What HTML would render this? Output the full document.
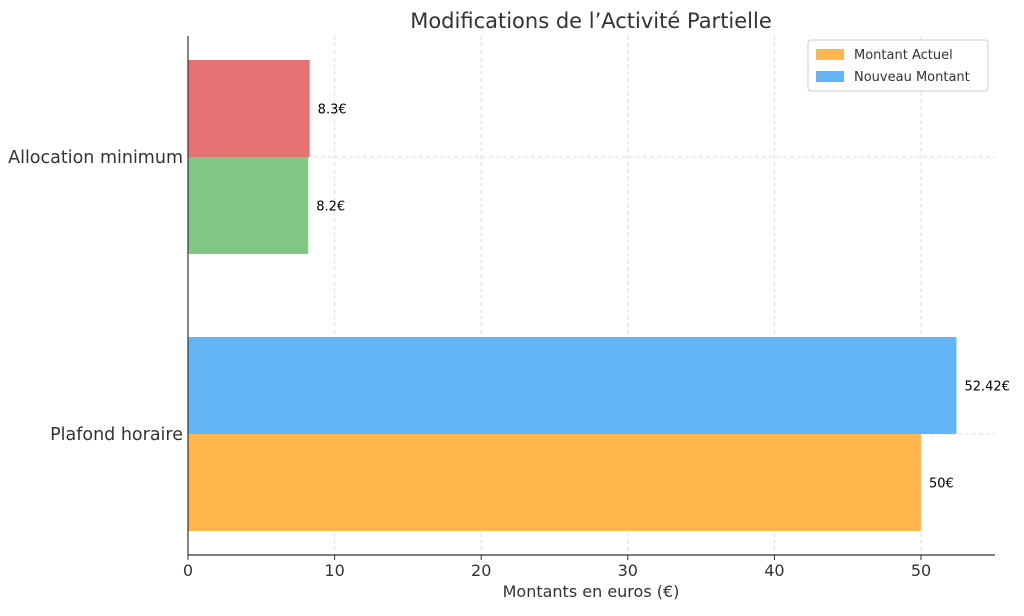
<!DOCTYPE html>
<html><head><meta charset="utf-8"><style>
body{margin:0;background:#fff;font-family:"Liberation Sans","DejaVu Sans",sans-serif}
svg text{font-family:"DejaVu Sans","Liberation Sans",sans-serif}
</style></head><body>
<svg id="chart" width="1024" height="611" xmlns="http://www.w3.org/2000/svg">
<text x="591" y="28" text-anchor="middle" font-size="21" fill="#333">Modifications de l’Activité Partielle</text>
<g id="grid"></g>
<g id="bars"></g>
<g id="axes"></g>
<text x="591" y="597" text-anchor="middle" font-size="16" fill="#333">Montants en euros (€)</text>
<g>
<rect x="808" y="40" width="180" height="51" rx="3" fill="#fff" stroke="#ccc"/>
<rect x="816" y="49" width="28" height="11" fill="#ffb74d"/>
<text x="854" y="59" font-size="13" fill="#333">Montant Actuel</text>
<rect x="816" y="71" width="28" height="11" fill="#64b5f6"/>
<text x="854" y="81" font-size="13" fill="#333">Nouveau Montant</text>
</g>
</svg>
<script>
const categories=["Allocation minimum","Plafond horaire"];
const actuel=[8.2,50];
const nouveau=[8.3,52.42];
const labelsActuel=["8.2€","50€"];
const labelsNouveau=["8.3€","52.42€"];
const colorsActuel=["#81c784","#ffb74d"];
const colorsNouveau=["#e57373","#64b5f6"];
const ticks=[0,10,20,30,40,50];
const NS="http://www.w3.org/2000/svg";
const x0=188,xEnd=995,yTop=36,yBottom=555;
const xs=v=>x0+v*(921-x0)/50;
const catY=[157,434];
const bw=97;
function mk(t,a,p){const e=document.createElementNS(NS,t);for(const k in a)e.setAttribute(k,a[k]);p.appendChild(e);return e;}
const grid=document.getElementById('grid'),bars=document.getElementById('bars'),axes=document.getElementById('axes');
ticks.forEach(t=>{
 const l=mk('line',{x1:xs(t),x2:xs(t),y1:yTop,y2:yBottom,stroke:'#ddd','stroke-dasharray':'4,3'},grid);
 
 
 const tk=mk('line',{x1:xs(t),x2:xs(t),y1:yBottom,y2:yBottom+5,stroke:'#333'},axes);
 
 
 const tx=mk('text',{x:xs(t),y:yBottom+21,'text-anchor':'middle','font-size':16,fill:'#333'},axes);
 tx.textContent=t;
 
 
});
categories.forEach((c,i)=>{
 const y=catY[i];
 const g=mk('line',{x1:x0,x2:xEnd,y1:y,y2:y,stroke:'#ddd','stroke-dasharray':'4,3'},grid);
 
 
 const bn=mk('rect',{x:x0,y:y-bw,width:xs(nouveau[i])-x0,height:bw,fill:colorsNouveau[i]},bars);
 
 
 const ba=mk('rect',{x:x0,y:y,width:xs(actuel[i])-x0,height:bw,fill:colorsActuel[i]},bars);
 
 
 const ln=mk('text',{x:xs(nouveau[i])+8,y:y-bw/2+5,'font-size':13,fill:'#000'},bars);
 ln.textContent=labelsNouveau[i];
 
 
 const la=mk('text',{x:xs(actuel[i])+8,y:y+bw/2+5,'font-size':13,fill:'#000'},bars);
 la.textContent=labelsActuel[i];
 
 
 const yt=mk('text',{x:x0-5,y:y+6,'text-anchor':'end','font-size':17.5,fill:'#333'},axes);
 yt.textContent=c;
 
 
});
const ya=mk('line',{x1:x0,x2:x0,y1:yTop,y2:yBottom,stroke:'#333','stroke-width':1.2},axes);


const xa=mk('line',{x1:x0,x2:xEnd,y1:yBottom,y2:yBottom,stroke:'#333','stroke-width':1.2},axes);


</script>
</body></html>
